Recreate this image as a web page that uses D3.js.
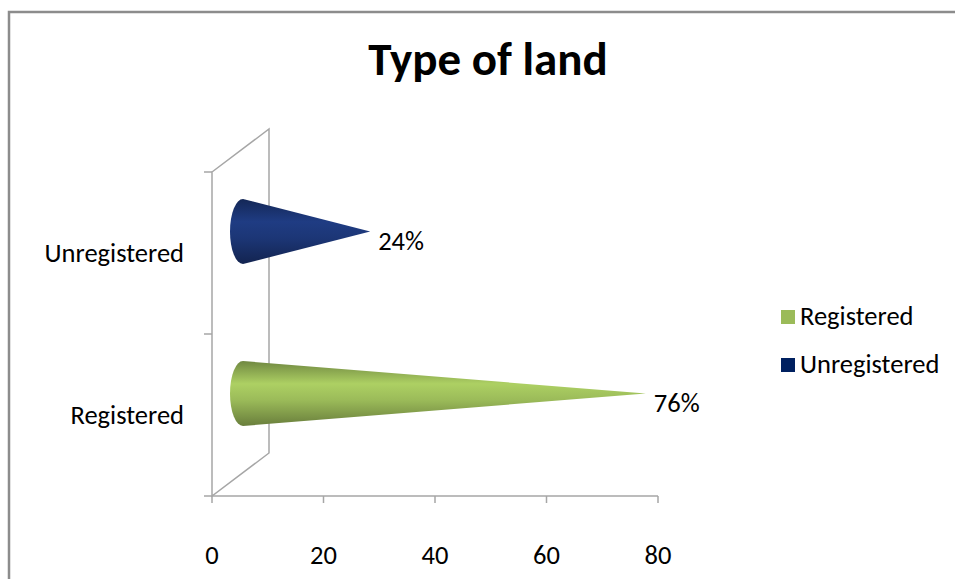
<!DOCTYPE html>
<html>
<head>
<meta charset="utf-8">
<title>Type of land</title>
<script src="https://cdn.jsdelivr.net/npm/d3@7"></script>
<style>
 body { margin: 0; background: #fff; }
 text { font-family: Carlito, Calibri, Lato, sans-serif; fill: #000; }
</style>
</head>
<body>
<script>
// data
var categories = ["Registered", "Unregistered"];
var values = [76, 24];
var valueLabels = ["76%", "24%"];
var xTicks = [0, 20, 40, 60, 80];
var colors = ["#9bbb59", "#1c3676"];
var legendColors = ["#9bbb59", "#002060"];

var w = 955, h = 579;
var svg = d3.select("body").append("svg")
    .attr("width", w).attr("height", h);

// chart frame (right and bottom edges fall outside the picture)
svg.append("rect")
    .attr("x", 9).attr("y", 12)
    .attr("width", 960).attr("height", 600)
    .attr("fill", "none").attr("stroke", "#8c8c8c").attr("stroke-width", 2.5);

svg.append("text")
    .attr("x", 488).attr("y", 75)
    .attr("text-anchor", "middle")
    .style("font-size", "47px").style("font-weight", "bold")
    .text("Type of land");

var x = d3.scaleLinear().domain([0, 80]).range([212, 658]);
var y = d3.scaleBand().domain(categories).range([496, 172]);
// 3d depth of the wall
var dx = 57, dy = -43;
// scale at the middle depth, where the cones sit
var xm = d3.scaleLinear().domain([0, 80]).range([243, 667]);

var defs = svg.append("defs");
colors.forEach(function(c, i) {
  var base = d3.color(c);
  var g = defs.append("linearGradient")
      .attr("id", "cone" + i)
      .attr("x1", 0).attr("y1", 0).attr("x2", 0).attr("y2", 1);
  g.append("stop").attr("offset", "0%").attr("stop-color", base.darker(0.9));
  g.append("stop").attr("offset", "35%").attr("stop-color", base.brighter(0.3));
  g.append("stop").attr("offset", "60%").attr("stop-color", base);
  g.append("stop").attr("offset", "100%").attr("stop-color", base.darker(1.1));
});

// walls
var wall = svg.append("g").attr("stroke", "#a6a6a6").attr("stroke-width", 1.5).attr("fill", "none");
var y0 = y.range()[0], y1 = y.range()[1];
var x0 = x(0);
wall.append("path")
    .attr("d", "M" + x0 + "," + y1 + "L" + (x0 + dx) + "," + (y1 + dy) +
               "L" + (x0 + dx) + "," + (y0 + dy) + "L" + x0 + "," + y0 + "Z");
// x axis line
wall.append("line")
    .attr("x1", x0).attr("x2", x(80)).attr("y1", y0).attr("y2", y0);
wall.selectAll(".xt").data(xTicks).enter().append("line")
    .attr("x1", function(d) { return x(d); }).attr("x2", function(d) { return x(d); })
    .attr("y1", y0).attr("y2", y0 + 7);
var edges = [y0].concat(categories.map(function(c) { return y(c); }));
wall.selectAll(".yt").data(edges).enter().append("line")
    .attr("x1", x0 - 8).attr("x2", x0)
    .attr("y1", function(d) { return d; }).attr("y2", function(d) { return d; });

// x tick labels
svg.selectAll(".xl").data(xTicks).enter().append("text")
    .attr("x", function(d) { return x(d); })
    .attr("y", 564)
    .attr("text-anchor", "middle")
    .style("font-size", "26.5px")
    .text(function(d) { return d; });

// category labels
svg.selectAll(".cl").data(categories).enter().append("text")
    .attr("x", 184)
    .attr("y", function(d) { return y(d) + y.bandwidth() / 2 + 9; })
    .attr("text-anchor", "end")
    .style("font-size", "26.5px")
    .text(function(d) { return d; });

// cones
var ry = 32.5, rx = 13;
categories.forEach(function(c, i) {
  var cy = y(c) + y.bandwidth() / 2 + dy / 2;
  var bx = xm(0), tx = xm(values[i]);
  var p = "M" + tx + "," + cy +
          "L" + bx + "," + (cy - ry) +
          "A" + rx + "," + ry + " 0 0 0 " + bx + "," + (cy + ry) + "Z";
  svg.append("path").attr("d", p).attr("fill", "url(#cone" + i + ")");
  svg.append("text")
      .attr("x", tx + 8)
      .attr("y", cy + 18)
      .style("font-size", "26.5px")
      .text(valueLabels[i]);
});

// legend
var leg = svg.append("g");
categories.forEach(function(c, i) {
  var ly = 310 + i * 48;
  leg.append("rect").attr("x", 781).attr("y", ly).attr("width", 14).attr("height", 14)
     .attr("fill", legendColors[i]);
  leg.append("text").attr("x", 800).attr("y", ly + 15)
     .style("font-size", "26.5px").text(c);
});
</script>
</body>
</html>
